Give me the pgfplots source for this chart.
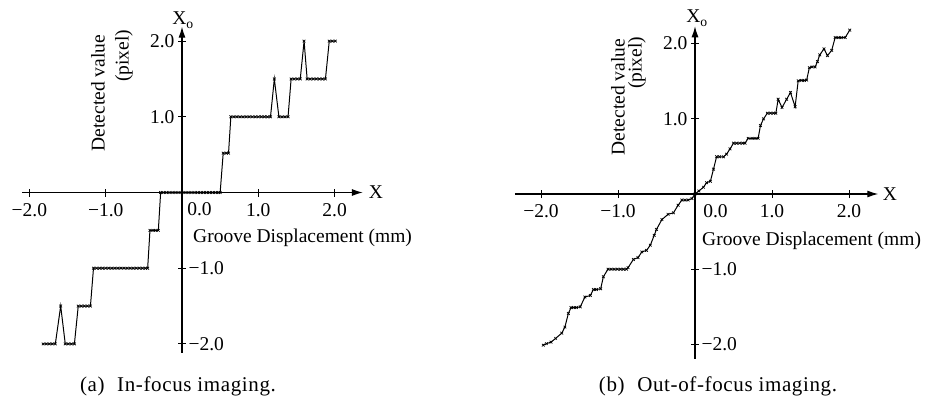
\documentclass[border=0pt]{standalone}
\usepackage{fontspec}
\setmainfont{Liberation Serif}
\newfontfamily\capfont[LetterSpace=3]{Liberation Serif}
\usepackage{pgfplots}
\pgfplotsset{compat=1.18}
\usetikzlibrary{arrows.meta}
\newcommand\chf{\fontsize{19.5}{22}\selectfont}

\pgfplotstableread{
x y
-1.82 -2
-1.78 -2
-1.74 -2
-1.70 -2
-1.66 -2
-1.59 -1.5
-1.53 -2
-1.49 -2
-1.45 -2
-1.41 -2
-1.36 -1.5
-1.32 -1.5
-1.28 -1.5
-1.24 -1.5
-1.20 -1.5
-1.16 -1
-1.12 -1
-1.08 -1
-1.04 -1
-1.00 -1
-0.96 -1
-0.92 -1
-0.88 -1
-0.84 -1
-0.80 -1
-0.76 -1
-0.72 -1
-0.68 -1
-0.64 -1
-0.60 -1
-0.56 -1
-0.52 -1
-0.48 -1
-0.45 -1
-0.42 -0.5
-0.38 -0.5
-0.35 -0.5
-0.31 -0.5
-0.28 0
-0.24 0
-0.20 0
-0.16 0
-0.12 0
-0.08 0
-0.04 0
0.00 0
0.04 0
0.08 0
0.12 0
0.16 0
0.20 0
0.24 0
0.28 0
0.32 0
0.36 0
0.40 0
0.44 0
0.48 0
0.50 0
0.54 0.52
0.58 0.52
0.61 0.52
0.64 1
0.68 1
0.72 1
0.76 1
0.80 1
0.84 1
0.88 1
0.92 1
0.96 1
1.00 1
1.04 1
1.08 1
1.12 1
1.16 1
1.21 1.5
1.27 1
1.31 1
1.35 1
1.39 1
1.43 1.5
1.47 1.5
1.51 1.5
1.55 1.5
1.60 2
1.64 1.5
1.68 1.5
1.72 1.5
1.76 1.5
1.80 1.5
1.84 1.5
1.88 1.5
1.93 2
1.97 2
2.01 2
}\infocus

\pgfplotstableread{
x y
-1.97 -2.01
-1.93 -1.99
-1.87 -1.97
-1.81 -1.92
-1.73 -1.85
-1.69 -1.77
-1.645 -1.59
-1.61 -1.51
-1.58 -1.51
-1.54 -1.51
-1.49 -1.50
-1.43 -1.37
-1.36 -1.35
-1.32 -1.27
-1.28 -1.27
-1.225 -1.26
-1.19 -1.10
-1.13 -1.00
-1.09 -1.00
-1.05 -1.00
-1.01 -1.00
-0.97 -1.00
-0.93 -1.00
-0.89 -1.00
-0.87 -0.98
-0.80 -0.87
-0.74 -0.845
-0.69 -0.77
-0.63 -0.75
-0.58 -0.68
-0.53 -0.55
-0.50 -0.47
-0.43 -0.34
-0.35 -0.27
-0.28 -0.25
-0.22 -0.15
-0.17 -0.08
-0.13 -0.08
-0.09 -0.08
-0.04 -0.06
0.00 0.00
0.05 0.04
0.11 0.09
0.15 0.15
0.20 0.17
0.24 0.33
0.28 0.495
0.32 0.495
0.37 0.495
0.41 0.53
0.455 0.60
0.50 0.676
0.54 0.676
0.58 0.676
0.62 0.676
0.65 0.676
0.69 0.74
0.74 0.74
0.78 0.74
0.82 0.74
0.85 0.91
0.89 1.00
0.94 1.075
0.98 1.075
1.02 1.075
1.05 1.075
1.08 1.26
1.13 1.15
1.19 1.26
1.24 1.35
1.30 1.16
1.34 1.505
1.38 1.51
1.42 1.51
1.45 1.515
1.485 1.68
1.52 1.69
1.56 1.69
1.59 1.76
1.62 1.85
1.675 1.93
1.72 1.84
1.775 1.91
1.82 2.08
1.86 2.08
1.90 2.08
1.95 2.08
2.01 2.18
}\outfocus

\pgfplotsset{
  myax/.style={
    axis lines=middle, clip=false, anchor=origin,
    axis line style={line width=1.1pt,-{Latex[length=11pt,width=7pt]}},
    major tick length=8pt, tick align=center,
    tick style={line width=0.9pt, black},
    ticklabel style={font=\chf},
    xtick={-2,-1,1,2}, xticklabels={−2.0,−1.0,1.0,2.0},
    xticklabel style={yshift=-3pt},
    ytick={1,2}, yticklabels={1.0,2.0},
    extra y ticks={-1,-2}, extra y tick labels={−1.0,−2.0},
    extra y tick style={yticklabel style={anchor=west, xshift=7pt}},
  },
  dat/.style={black, line width=1pt, mark=x, mark size=1.9pt,
    mark options={line width=0.7pt}},
}

\begin{document}
\begin{tikzpicture}
\useasboundingbox (0pt,0pt) rectangle (934pt,408pt);
\begin{axis}[myax, at={(182pt,215.5pt)}, x=76.3pt, y=75.7pt,
  xmin=-2.1, xmax=2.37, ymin=-2.12, ymax=2.19]
\addplot[dat] table[x=x,y=y] {\infocus};
\end{axis}
\begin{axis}[myax, at={(695pt,214pt)}, x=77pt, y=75.2pt,
  xmin=-2.34, xmax=2.38, ymin=-2.19, ymax=2.23]
\addplot[dat] table[x=x,y=y] {\outfocus};
\end{axis}
% left labels
\node[font=\chf, anchor=base] at (183pt,383pt) {X\textsubscript{o}};
\node[font=\chf] at (376pt,215.5pt) {X};
\node[font=\chf, anchor=west, inner sep=0pt] at (193pt,170pt) {Groove Displacement (mm)};
\node[font=\chf, rotate=90] at (98pt,315pt) {Detected value};
\node[font=\chf, rotate=90] at (124pt,352pt) {(pixel)};
\node[font=\chf] at (199.5pt,199pt) {0.0};
% right labels
\node[font=\chf, anchor=base] at (697pt,385pt) {X\textsubscript{o}};
\node[font=\chf] at (890pt,214pt) {X};
\node[font=\chf, anchor=west, inner sep=0pt] at (702pt,167pt) {Groove Displacement (mm)};
\node[font=\chf, rotate=90] at (618pt,311pt) {Detected value};
\node[font=\chf, rotate=90] at (637pt,345pt) {(pixel)};
\node[font=\chf] at (715.5pt,197pt) {0.0};
% captions
\node[font=\capfont\fontsize{21}{24}\selectfont] at (178pt,22pt) {(a)\hspace{0.6em}In-focus imaging.};
\node[font=\capfont\fontsize{21}{24}\selectfont] at (718pt,22pt) {(b)\hspace{0.6em}Out-of-focus imaging.};
\end{tikzpicture}
\end{document}
